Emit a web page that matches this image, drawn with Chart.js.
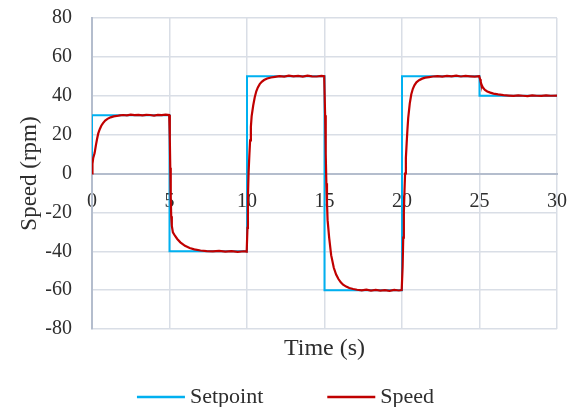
<!DOCTYPE html>
<html>
<head>
<meta charset="utf-8">
<script src="https://cdn.jsdelivr.net/npm/chart.js@4/dist/chart.umd.min.js"></script>
<style>
  html, body { margin: 0; padding: 0; background: #ffffff; }
  #wrap { width: 571px; height: 407px; position: relative; }
</style>
</head>
<body>
<div id="wrap"><canvas id="c"></canvas></div>
<script>
// Speed controller step test: commanded setpoint and measured motor speed
const seriesNames = ['Setpoint', 'Speed'];
const xTickLabels = ['0', '5', '10', '15', '20', '25', '30'];
const yTickLabels = ['-80', '-60', '-40', '-20', '0', '20', '40', '60', '80'];

// Setpoint steps (s, rpm)
const setpointTime  = [0, 0, 5, 5, 10, 10, 15, 15, 20, 20, 25, 25, 30];
const setpointValue = [0, 30, 30, -40, -40, 50, 50, -60, -60, 50, 50, 40, 40];

// Measured speed (s, rpm)
const speedTime = [
  0, 0.03, 0.08, 0.17, 0.25, 0.32, 0.4, 0.5, 0.6, 0.7, 0.85, 1.0, 1.2, 1.4, 1.6, 1.8, 2.0,
  2.25, 2.5, 2.75, 3.0, 3.25, 3.5, 3.75, 4.0, 4.25, 4.5, 4.75, 4.98,
  5.02, 5.05, 5.08, 5.11, 5.15, 5.22, 5.35, 5.5, 5.7, 6.0, 6.3, 6.6, 7.0, 7.4, 7.8, 8.2,
  8.6, 9.0, 9.4, 9.8, 9.98,
  10.03, 10.06, 10.1, 10.15, 10.2, 10.25, 10.3, 10.4, 10.5, 10.6, 10.7, 10.82, 10.95, 11.1,
  11.3, 11.55, 11.8, 12.1, 12.4, 12.7, 13.0, 13.3, 13.6, 13.9, 14.2, 14.5, 14.8, 14.98,
  15.04, 15.08, 15.12, 15.16, 15.2, 15.3, 15.43, 15.6, 15.75, 15.9, 16.05, 16.2, 16.4, 16.6,
  16.85, 17.1, 17.4, 17.7, 18.0, 18.3, 18.6, 18.9, 19.2, 19.5, 19.8, 19.98,
  20.04, 20.08, 20.12, 20.16, 20.2, 20.25, 20.3, 20.35, 20.4, 20.5, 20.6, 20.7, 20.8, 20.93,
  21.1, 21.3, 21.5, 21.75, 22.0, 22.3, 22.6, 22.9, 23.2, 23.5, 23.8, 24.1, 24.4, 24.7, 24.98,
  25.04, 25.08, 25.14, 25.22, 25.35, 25.5, 25.7, 25.9, 26.2, 26.55, 26.9, 27.2, 27.5, 27.8,
  28.1, 28.4, 28.7, 29.0, 29.3, 29.6, 30.0
];
const speedValue = [
  0, 5, 8, 10.5, 14.5, 17.5, 20.5, 22.8, 24.6, 25.8, 27.2, 28.1, 28.9, 29.4, 29.6, 29.9, 30.1,
  29.9, 30.3, 30.0, 30.2, 29.9, 30.2, 30.1, 29.8, 30.2, 30.0, 30.3, 30.1,
  18, 3, -12, -22, -27, -30.3, -32, -33.7, -35.4, -37.2, -38.3, -39.0, -39.6, -39.9, -40.1, -39.8,
  -40.2, -39.9, -40.3, -40.0, -40.2,
  -28, -12, 0, 9, 17, 24, 29.5, 35, 39.2, 42.3, 44.3, 46, 47.2, 48.1,
  48.9, 49.4, 49.7, 50.1, 49.8, 50.3, 50.0, 50.2, 49.8, 50.3, 50.0, 49.9, 50.2, 50.0,
  30, 10, -5, -15, -24, -33, -42, -48.5, -52, -54.3, -56, -57.2, -58.2, -58.9,
  -59.4, -59.8, -60.1, -59.8, -60.2, -59.9, -60.3, -60.0, -60.4, -59.9, -60.2, -60.0,
  -48, -33, -20, -9, 0, 8, 15.5, 22.5, 28.5, 36, 40.8, 43.6, 45.4, 46.9,
  48, 48.8, 49.3, 49.6, 49.9, 50.1, 49.8, 50.2, 50.0, 50.3, 49.9, 50.2, 50.0, 49.8, 50.1,
  48.5, 47, 45.5, 44.2, 43, 42.2, 41.6, 41.1, 40.7, 40.3, 40.1, 39.9, 40.2, 40.0,
  39.8, 40.2, 40.0, 39.9, 40.2, 40.0, 40.1
];

const toPoints = (xs, ys) => xs.map((x, i) => ({ x: x, y: ys[i] }));

const SERIF = '"Liberation Serif", "Times New Roman", serif';
const TEXT = '#2E2E2E';
const GRID = '#D9DEE6';
const AXIS = '#B4BDCD';

// Keep label overhang from growing the outer margins
const noOverhang = (scale) => {
  scale.paddingTop = 0;
  scale.paddingBottom = 0;
  scale.paddingLeft = 0;
  scale.paddingRight = 0;
};

// Line-sample legend drawn under the axis title
const lineLegend = {
  id: 'lineLegend',
  afterDraw(chart) {
    const ctx = chart.ctx;
    const sample = 48, gap = 5, spacing = 64, y = 397;
    ctx.save();
    ctx.font = '22px ' + SERIF;
    const items = chart.data.datasets.map(ds => ({
      label: ds.label, color: ds.borderColor, w: sample + gap + ctx.measureText(ds.label).width
    }));
    const total = items.reduce((s, it) => s + it.w, 0) + spacing * (items.length - 1);
    let x = (chart.width - total) / 2;
    items.forEach(it => {
      ctx.strokeStyle = it.color;
      ctx.lineWidth = 2.5;
      ctx.beginPath();
      ctx.moveTo(x, y);
      ctx.lineTo(x + sample, y);
      ctx.stroke();
      ctx.fillStyle = TEXT;
      ctx.textBaseline = 'middle';
      ctx.textAlign = 'left';
      ctx.fillText(it.label, x + sample + gap, y);
      x += it.w + spacing;
    });
    ctx.restore();
  }
};

new Chart(document.getElementById('c'), {
  type: 'line',
  data: {
    datasets: [
      {
        label: seriesNames[0],
        data: toPoints(setpointTime, setpointValue),
        borderColor: '#00B0F0',
        backgroundColor: '#00B0F0',
        borderWidth: 2,
        pointRadius: 0,
        tension: 0,
        order: 1
      },
      {
        label: seriesNames[1],
        data: toPoints(speedTime, speedValue),
        borderColor: '#C00000',
        backgroundColor: '#C00000',
        borderWidth: 2.2,
        pointRadius: 0,
        tension: 0,
        order: 0
      }
    ]
  },
  options: {
    responsive: true,
    maintainAspectRatio: false,
    animation: false,
    devicePixelRatio: 1,
    layout: { padding: { top: 18, right: 14, left: 0, bottom: 44 } },
    plugins: {
      legend: { display: false },
      tooltip: { enabled: false }
    },
    scales: {
      x: {
        type: 'linear',
        position: { y: 0 },
        min: 0,
        max: 30,
        afterFit: noOverhang,
        afterBuildTicks: (scale) => {
          scale.ticks = xTickLabels.map(v => ({ value: Number(v) }));
        },
        ticks: {
          callback: (v) => String(v),
          font: { family: SERIF, size: 20 },
          color: TEXT,
          padding: 16,
          maxRotation: 0,
          autoSkip: false
        },
        grid: {
          color: (c) => (c.tick && c.tick.value === 0 ? AXIS : GRID),
          lineWidth: (c) => (c.tick && c.tick.value === 0 ? 2 : 1.5),
          drawTicks: false
        },
        border: { color: AXIS, width: 2 }
      },
      xTitle: {
        type: 'linear',
        position: 'bottom',
        min: 0,
        max: 30,
        afterFit: (scale) => { noOverhang(scale); scale.height = 34; },
        ticks: { display: false },
        grid: { display: false, drawTicks: false },
        border: { display: false },
        title: {
          display: true,
          text: 'Time (s)',
          font: { family: SERIF, size: 24 },
          color: TEXT,
          padding: 0
        }
      },
      y: {
        type: 'linear',
        min: -80,
        max: 80,
        afterFit: (scale) => { noOverhang(scale); scale.width = 92; },
        afterBuildTicks: (scale) => {
          scale.ticks = yTickLabels.map(v => ({ value: Number(v) }));
        },
        ticks: {
          callback: (v) => String(v),
          font: { family: SERIF, size: 20 },
          color: TEXT,
          padding: 20
        },
        grid: {
          color: (c) => (c.tick && c.tick.value === 0 ? AXIS : GRID),
          lineWidth: (c) => (c.tick && c.tick.value === 0 ? 2 : 1.5),
          drawTicks: false
        },
        border: { color: AXIS, width: 2 },
        title: {
          display: true,
          text: 'Speed (rpm)',
          font: { family: SERIF, size: 23 },
          color: TEXT,
          padding: { top: 16, bottom: 0 }
        }
      }
    }
  },
  plugins: [lineLegend]
});
</script>
</body>
</html>
